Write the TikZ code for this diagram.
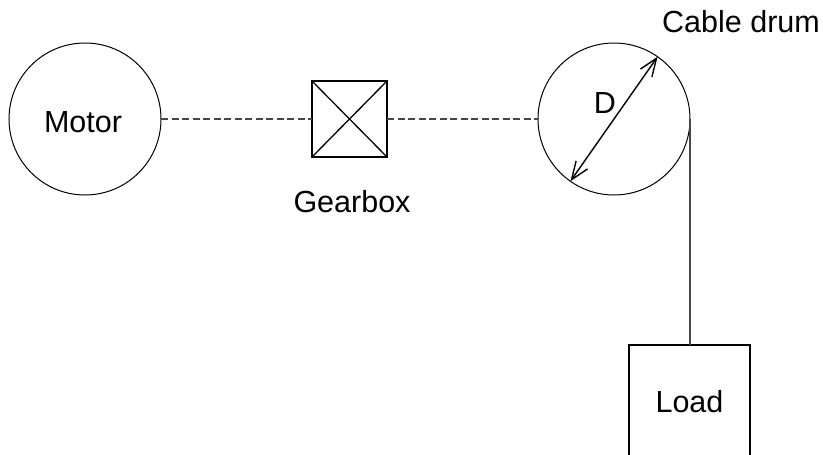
\documentclass[tikz,border=0pt]{standalone}
\usepackage{fontspec}
\setmainfont{Liberation Sans}
\usetikzlibrary{arrows.meta,positioning}
\definecolor{shaft}{RGB}{70,70,70}
\tikzset{
    drum/.style={
        circle, minimum size=152pt,
        inner sep=0pt, outer sep=0pt,
        draw=black, line width=1pt
    },
    box/.style={
        rectangle, inner sep=0pt, outer sep=0pt,
        draw=black, line width=1.3pt, font=\fontsize{30.5}{35}\selectfont
    },
    descr/.style={
        inner sep=0pt, font=\fontsize{30.5}{35}\selectfont
    },
    connector/.style={
        draw=shaft, line width=1.3pt
    },
    shaftline/.style={
        connector, dash pattern=on 7pt off 3.5pt
    },
    dimension/.style={
        line width=1.4pt,
        {Straight Barb[length=18pt,width=14pt]}-{Straight Barb[length=18pt,width=14pt]}
    }
}
\begin{document}
\begin{tikzpicture}[x=1pt,y=-1pt]
    \useasboundingbox (0,0) rectangle (823,455);
    \node [drum] (motor) at (85,119) {};
    \node [descr] (motorlabel) at (83,122) {Motor};
    \node [box, minimum width=75pt, minimum height=76pt] (gear) at (349.5,119) {};
    \node [descr] (gearlabel) at (352,202) {Gearbox};
    \node [drum] (cable) at (614,119) {};
    \node [descr] (cablelabel) at (741,22) {Cable drum};
    \node [descr] (dlabel) at (605,103) {D};
    \node [box, minimum width=121pt, minimum height=114pt] (load) at (689.5,402) {Load};
    \draw [box] (gear.north west) -- (gear.south east);
    \draw [box] (gear.north east) -- (gear.south west);
    \draw [shaftline] (motor.east) -- (gear.west);
    \draw [shaftline] (gear.east) -- (cable.west);
    \draw [connector] (cable.east) -- (cable.east |- load.north);
    \draw [dimension] (cable.235.5) -- (cable.55.5);
\end{tikzpicture}
\end{document}
